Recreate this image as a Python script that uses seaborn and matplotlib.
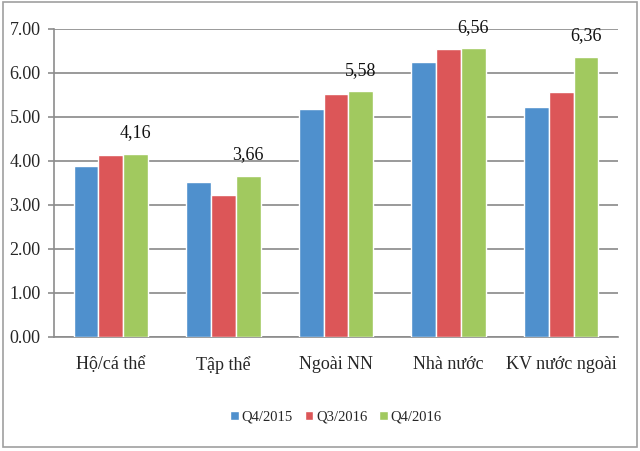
import pandas as pd
import seaborn as sns
import matplotlib.pyplot as plt
from matplotlib.patches import Rectangle

categories = ["Hộ/cá thể", "Tập thể", "Ngoài NN", "Nhà nước", "KV nước ngoài"]
series = ["Q4/2015", "Q3/2016", "Q4/2016"]
q4_2015 = [3.89, 3.51, 5.17, 6.25, 5.22]
q3_2016 = [4.13, 3.22, 5.52, 6.55, 5.57]
q4_2016 = [4.16, 3.66, 5.58, 6.56, 6.36]
green_labels = ["4,16", "3,66", "5,58", "6,56", "6,36"]
colors = ["#4f90cd", "#dc5658", "#a1c95f"]


def main():
    rows = []
    for name, vals in zip(series, [q4_2015, q3_2016, q4_2016]):
        for cat, v in zip(categories, vals):
            rows.append({"category": cat, "series": name, "value": v})
    df = pd.DataFrame(rows)

    sns.set_theme(style="white")
    plt.rcParams["font.family"] = ["Liberation Serif", "DejaVu Serif"]

    fig = plt.figure(figsize=(6.4, 4.51), dpi=100)
    ax = fig.add_axes([0.085, 0.253, 0.88, 0.683])

    sns.barplot(data=df, x="category", y="value", hue="series",
                palette=colors, width=0.66, saturation=1, ax=ax, zorder=3)

    # value labels only on the last series
    ax.bar_label(ax.containers[2], labels=green_labels, padding=9,
                 fontsize=13, color="#111111")

    ax.set_ylim(0, 7)
    ax.set_xlim(-0.5, 4.5)
    ax.set_yticks(range(8))
    ax.set_yticklabels([f"{v:.2f}" for v in range(8)], fontsize=13)
    ax.tick_params(axis="x", labelsize=13, length=0, pad=14)
    ax.set_xticks([i - 0.5 for i in range(6)], minor=True)
    ax.tick_params(axis="x", which="minor", length=5, color="#8c8c8c", width=1.2)
    ax.tick_params(axis="y", length=4, color="#8c8c8c", width=1.2, left=True, pad=6)
    ax.grid(axis="y", color="#9a9a9a", linewidth=1.4, zorder=0)
    ax.set_xlabel("")
    ax.set_ylabel("")
    for side in ["top", "right"]:
        ax.spines[side].set_visible(False)
    for side in ["left", "bottom"]:
        ax.spines[side].set_color("#8c8c8c")
        ax.spines[side].set_linewidth(1.2)

    leg = ax.legend(loc="center", bbox_to_anchor=(0.5, -0.26), ncol=3,
                    frameon=False, fontsize=10.5, handlelength=0.6,
                    handleheight=0.6, handletextpad=0.2, columnspacing=0.8)

    fig.patches.append(Rectangle((0.004, 0.008), 0.991, 0.988,
                                 transform=fig.transFigure, fill=False,
                                 edgecolor="#a0a0a0", linewidth=1.2))

    fig.savefig("out.png", dpi=100)


if __name__ == "__main__":
    main()
